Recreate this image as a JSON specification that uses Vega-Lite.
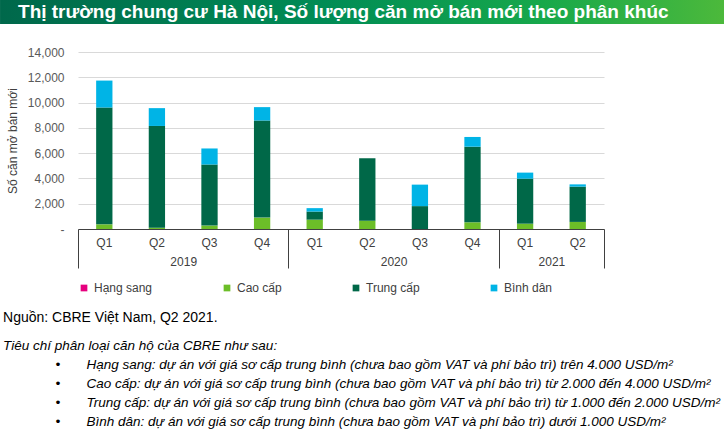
{
  "$schema": "https://vega.github.io/schema/vega-lite/v6.json",
  "padding": 0,
  "bounds": "full",
  "spacing": 22,
  "config": {"view": {"stroke": null}, "font": "Liberation Sans"},
  "title": {
    "text": "Nguồn: CBRE Việt Nam, Q2 2021.",
    "subtitle": [
      "Tiêu chí phân loại căn hộ của CBRE như sau:",
      "\u200b\u00a0\u00a0\u00a0\u00a0\u00a0\u00a0\u00a0\u00a0\u00a0\u00a0\u00a0\u00a0\u00a0\u00a0•\u00a0\u00a0\u00a0\u00a0\u00a0\u00a0\u00a0Hạng sang: dự án với giá sơ cấp trung bình (chưa bao gồm VAT và phí bảo trì) trên 4.000 USD/m²",
      "\u200b\u00a0\u00a0\u00a0\u00a0\u00a0\u00a0\u00a0\u00a0\u00a0\u00a0\u00a0\u00a0\u00a0\u00a0•\u00a0\u00a0\u00a0\u00a0\u00a0\u00a0\u00a0Cao cấp: dự án với giá sơ cấp trung bình (chưa bao gồm VAT và phí bảo trì) từ 2.000 đến 4.000 USD/m²",
      "\u200b\u00a0\u00a0\u00a0\u00a0\u00a0\u00a0\u00a0\u00a0\u00a0\u00a0\u00a0\u00a0\u00a0\u00a0•\u00a0\u00a0\u00a0\u00a0\u00a0\u00a0\u00a0Trung cấp: dự án với giá sơ cấp trung bình (chưa bao gồm VAT và phí bảo trì) từ 1.000 đến 2.000 USD/m²",
      "\u200b\u00a0\u00a0\u00a0\u00a0\u00a0\u00a0\u00a0\u00a0\u00a0\u00a0\u00a0\u00a0\u00a0\u00a0•\u00a0\u00a0\u00a0\u00a0\u00a0\u00a0\u00a0Bình dân: dự án với giá sơ cấp trung bình (chưa bao gồm VAT và phí bảo trì) dưới 1.000 USD/m²"
    ],
    "orient": "bottom",
    "anchor": "start",
    "frame": "bounds",
    "dx": 3,
    "offset": 17,
    "font": "Liberation Sans",
    "fontSize": 14,
    "fontWeight": "normal",
    "color": "#000000",
    "subtitleFont": "Liberation Sans",
    "subtitleFontSize": 13.5,
    "subtitleFontStyle": "italic",
    "subtitleColor": "#000000",
    "subtitleLineHeight": 19.1,
    "subtitlePadding": 14
  },
  "vconcat": [
    {
      "width": 646,
      "height": 24,
      "data": {"values": [{"banner": "title"}]},
      "layer": [
        {
          "mark": {
            "type": "rect",
            "fill": {
              "gradient": "linear",
              "x1": 0, "x2": 1, "y1": 0, "y2": 0,
              "stops": [
                {"offset": 0, "color": "#00684b"},
                {"offset": 0.45, "color": "#008c55"},
                {"offset": 0.75, "color": "#17a84b"},
                {"offset": 1, "color": "#4cb93b"}
              ]
            }
          },
          "encoding": {
            "x": {"datum": -0.1207, "type": "quantitative", "scale": {"domain": [0, 1], "nice": false, "zero": false}, "axis": null},
            "x2": {"datum": 1}
          }
        },
        {
          "mark": {
            "type": "text",
            "text": "Thị trường chung cư Hà Nội, Số lượng căn mở bán mới theo phân khúc",
            "align": "left",
            "baseline": "middle",
            "dx": 18,
            "dy": 0,
            "color": "#ffffff",
            "font": "Liberation Sans",
            "fontSize": 19,
            "fontWeight": "bold"
          },
          "encoding": {
            "x": {"datum": -0.1207, "type": "quantitative"}
          }
        }
      ]
    },
    {
      "width": 526,
      "height": 177,
      "data": {
        "values": [
          {"period": "2019-Q1", "segment": "Hạng sang", "units": 0},
          {"period": "2019-Q1", "segment": "Cao cấp", "units": 370},
          {"period": "2019-Q1", "segment": "Trung cấp", "units": 9240},
          {"period": "2019-Q1", "segment": "Bình dân", "units": 2130},
          {"period": "2019-Q2", "segment": "Hạng sang", "units": 0},
          {"period": "2019-Q2", "segment": "Cao cấp", "units": 100},
          {"period": "2019-Q2", "segment": "Trung cấp", "units": 8050},
          {"period": "2019-Q2", "segment": "Bình dân", "units": 1410},
          {"period": "2019-Q3", "segment": "Hạng sang", "units": 0},
          {"period": "2019-Q3", "segment": "Cao cấp", "units": 270},
          {"period": "2019-Q3", "segment": "Trung cấp", "units": 4830},
          {"period": "2019-Q3", "segment": "Bình dân", "units": 1270},
          {"period": "2019-Q4", "segment": "Hạng sang", "units": 0},
          {"period": "2019-Q4", "segment": "Cao cấp", "units": 900},
          {"period": "2019-Q4", "segment": "Trung cấp", "units": 7680},
          {"period": "2019-Q4", "segment": "Bình dân", "units": 1060},
          {"period": "2020-Q1", "segment": "Hạng sang", "units": 0},
          {"period": "2020-Q1", "segment": "Cao cấp", "units": 740},
          {"period": "2020-Q1", "segment": "Trung cấp", "units": 640},
          {"period": "2020-Q1", "segment": "Bình dân", "units": 270},
          {"period": "2020-Q2", "segment": "Hạng sang", "units": 0},
          {"period": "2020-Q2", "segment": "Cao cấp", "units": 660},
          {"period": "2020-Q2", "segment": "Trung cấp", "units": 4940},
          {"period": "2020-Q2", "segment": "Bình dân", "units": 0},
          {"period": "2020-Q3", "segment": "Hạng sang", "units": 0},
          {"period": "2020-Q3", "segment": "Cao cấp", "units": 0},
          {"period": "2020-Q3", "segment": "Trung cấp", "units": 1810},
          {"period": "2020-Q3", "segment": "Bình dân", "units": 1700},
          {"period": "2020-Q4", "segment": "Hạng sang", "units": 0},
          {"period": "2020-Q4", "segment": "Cao cấp", "units": 530},
          {"period": "2020-Q4", "segment": "Trung cấp", "units": 5980},
          {"period": "2020-Q4", "segment": "Bình dân", "units": 770},
          {"period": "2021-Q1", "segment": "Hạng sang", "units": 0},
          {"period": "2021-Q1", "segment": "Cao cấp", "units": 420},
          {"period": "2021-Q1", "segment": "Trung cấp", "units": 3560},
          {"period": "2021-Q1", "segment": "Bình dân", "units": 480},
          {"period": "2021-Q2", "segment": "Hạng sang", "units": 0},
          {"period": "2021-Q2", "segment": "Cao cấp", "units": 560},
          {"period": "2021-Q2", "segment": "Trung cấp", "units": 2790},
          {"period": "2021-Q2", "segment": "Bình dân", "units": 180}
        ]
      },
      "layer": [
        {
          "transform": [
            {"calculate": "indexof(['Hạng sang','Cao cấp','Trung cấp','Bình dân'], datum.segment)", "as": "stackRank"}
          ],
          "mark": {"type": "bar", "width": {"band": 0.31}},
          "encoding": {
            "x": {
              "field": "period",
              "type": "nominal",
              "sort": null,
              "scale": {"paddingInner": 0, "paddingOuter": 0},
              "axis": {
                "title": null,
                "labelExpr": "split(datum.value, '-')[1]",
                "labelAngle": 0,
                "ticks": false,
                "domain": true,
                "domainColor": "#404040",
                "domainWidth": 1,
                "grid": false,
                "labelPadding": 8,
                "labelFontSize": 12,
                "labelColor": "#404040"
              }
            },
            "y": {
              "field": "units",
              "type": "quantitative",
              "stack": "zero",
              "scale": {"domain": [0, 14000], "nice": false},
              "axis": {
                "title": "Số căn mở bán mới",
                "values": [0, 2000, 4000, 6000, 8000, 10000, 12000, 14000],
                "labelExpr": "datum.value == 0 ? '-' : format(datum.value, ',')",
                "domain": false,
                "ticks": false,
                "grid": true,
                "gridColor": "#d9d9d9",
                "gridWidth": 1,
                "labelPadding": 14,
                "labelFontSize": 12,
                "labelColor": "#595959",
                "titleFontSize": 12,
                "titleFontWeight": "normal",
                "titleColor": "#404040",
                "titlePadding": 8
              }
            },
            "order": {"field": "stackRank", "type": "quantitative", "sort": "ascending"},
            "color": {
              "field": "segment",
              "type": "nominal",
              "sort": ["Hạng sang", "Cao cấp", "Trung cấp", "Bình dân"],
              "scale": {
                "domain": ["Hạng sang", "Cao cấp", "Trung cấp", "Bình dân"],
                "range": ["#e6007e", "#6cbe28", "#006848", "#00b4e6"]
              },
              "legend": {
                "title": null,
                "orient": "bottom",
                "direction": "horizontal",
                "symbolType": "square",
                "symbolSize": 45,
                "symbolStrokeWidth": 0,
                "labelFontSize": 12,
                "labelColor": "#404040",
                "columnPadding": 68,
                "offset": 13
              }
            }
          }
        },
        {
          "mark": {"type": "rule", "opacity": 0},
          "encoding": {
            "x": {
              "field": "period",
              "type": "nominal",
              "sort": null,
              "axis": {
                "orient": "bottom",
                "title": null,
                "domain": false,
                "grid": false,
                "tickBand": "extent",
                "ticks": true,
                "tickSize": 39,
                "tickWidth": 1,
                "tickColor": "#404040",
                "tickOpacity": {"condition": {"test": "datum.index < 0 || indexof(['2019-Q4','2020-Q4','2021-Q2'], datum.value) >= 0", "value": 1}, "value": 0},
                "labelExpr": "datum.value == '2019-Q2' ? '2019' : datum.value == '2020-Q2' ? '2020' : datum.value == '2021-Q1' ? '2021' : ''",
                "labelAngle": 0,
                "labelOffset": 26.3,
                "labelPadding": -12,
                "labelFontSize": 12,
                "labelColor": "#404040"
              }
            }
          }
        }
      ],
      "resolve": {"axis": {"x": "independent"}}
    }
  ]
}
